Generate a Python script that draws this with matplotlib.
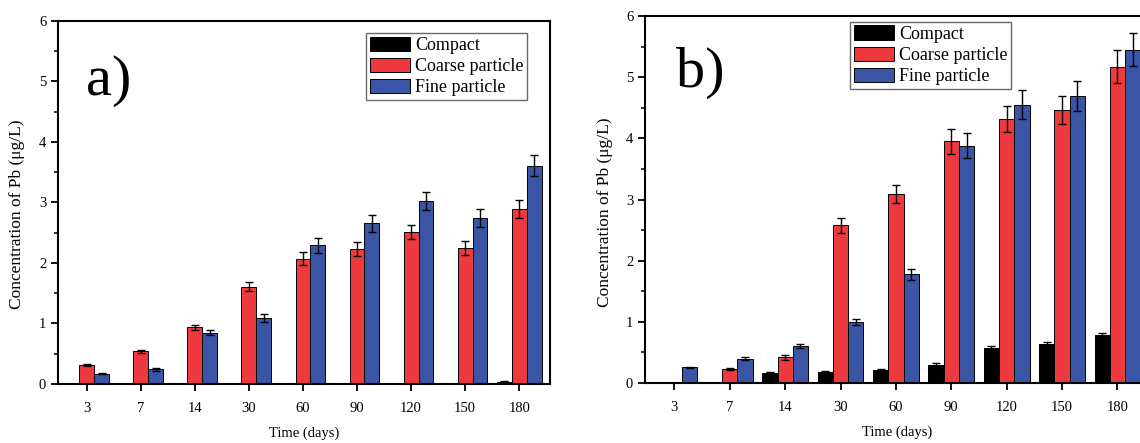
import numpy as np
import matplotlib
matplotlib.use("Agg")
import matplotlib.pyplot as plt
from matplotlib.ticker import MultipleLocator

plt.rcParams['font.family'] = ['Liberation Serif', 'DejaVu Serif']

days = ["3", "7", "14", "30", "60", "90", "120", "150", "180"]
series = ["Compact", "Coarse particle", "Fine particle"]
colors = ["#000000", "#ee3a3e", "#3a55a6"]

# panel a)
a_compact = [0, 0, 0, 0, 0, 0, 0, 0, 0.04]
a_coarse = [0.31, 0.54, 0.94, 1.61, 2.07, 2.23, 2.51, 2.25, 2.89]
a_fine = [0.17, 0.24, 0.85, 1.09, 2.29, 2.66, 3.03, 2.74, 3.61]
a_compact_err = [0, 0, 0, 0, 0, 0, 0, 0, 0.005]
a_coarse_err = [0.02, 0.03, 0.04, 0.08, 0.11, 0.11, 0.12, 0.12, 0.15]
a_fine_err = [0.01, 0.02, 0.04, 0.06, 0.12, 0.14, 0.15, 0.15, 0.18]

# panel b)
b_compact = [0, 0, 0.17, 0.18, 0.22, 0.30, 0.58, 0.64, 0.79]
b_coarse = [0, 0.23, 0.42, 2.58, 3.09, 3.95, 4.32, 4.47, 5.17]
b_fine = [0.255, 0.40, 0.60, 1.00, 1.78, 3.88, 4.55, 4.69, 5.45]
b_compact_err = [0, 0, 0.01, 0.01, 0.01, 0.02, 0.03, 0.03, 0.03]
b_coarse_err = [0, 0.01, 0.04, 0.12, 0.15, 0.20, 0.21, 0.23, 0.27]
b_fine_err = [0.01, 0.02, 0.03, 0.05, 0.09, 0.20, 0.24, 0.24, 0.27]

fig = plt.figure(figsize=(11.4, 4.43), dpi=100)
ax_a = fig.add_axes([0.0509, 0.1332, 0.4316, 0.8194])
ax_b = fig.add_axes([0.5658, 0.1354, 0.4421, 0.8285])

x = np.arange(len(days))
w = 0.275


def draw(ax, vals, errs, tag, leg_anchor, tag_pos, ylab_pos):
    for k, (v, e) in enumerate(zip(vals, errs)):
        ax.bar(x + (k - 1) * w, v, w, color=colors[k], edgecolor="black",
               linewidth=0.7, label=series[k], zorder=2)
        ax.errorbar(x + (k - 1) * w, v, yerr=e, fmt="none", ecolor="black",
                    elinewidth=1, capsize=3, capthick=1, zorder=3)
    ax.set_xlim(-0.53, 8.57)
    ax.set_ylim(0, 6)
    ax.set_xticks(x)
    ax.set_xticklabels(days)
    ax.yaxis.set_major_locator(MultipleLocator(1))
    ax.yaxis.set_minor_locator(MultipleLocator(0.5))
    ax.tick_params(axis="both", which="major", direction="out", length=5,
                   width=1.3, labelsize=10.5, color="black")
    ax.tick_params(axis="y", which="minor", direction="out", length=3, width=1.1)
    ax.tick_params(axis="x", pad=8)
    for s in ax.spines.values():
        s.set_linewidth(1.5)
    ax.set_xlabel("Time (days)", fontsize=10.5, labelpad=8)
    ax.set_ylabel("Concentration of Pb (\u03bcg/L)", fontsize=12.5)
    ax.yaxis.set_label_coords(*ylab_pos)
    ax.text(tag_pos[0], tag_pos[1], tag, transform=ax.transAxes,
            fontsize=42, va="center", ha="left")
    leg = ax.legend(loc="upper right", bbox_to_anchor=leg_anchor, fontsize=13,
                    frameon=True, fancybox=False, edgecolor="#444444",
                    handlelength=2.2, handleheight=0.85, handletextpad=0.28,
                    labelspacing=0.2, borderpad=0.2, borderaxespad=0)
    leg.get_frame().set_linewidth(1)


draw(ax_a, [a_compact, a_coarse, a_fine], [a_compact_err, a_coarse_err, a_fine_err],
     "a)", (0.953, 0.967), (0.057, 0.835), (-0.068, 0.468))
draw(ax_b, [b_compact, b_coarse, b_fine], [b_compact_err, b_coarse_err, b_fine_err],
     "b)", (0.726, 0.984), (0.061, 0.845), (-0.063, 0.466))

fig.savefig("out.png", dpi=100)
